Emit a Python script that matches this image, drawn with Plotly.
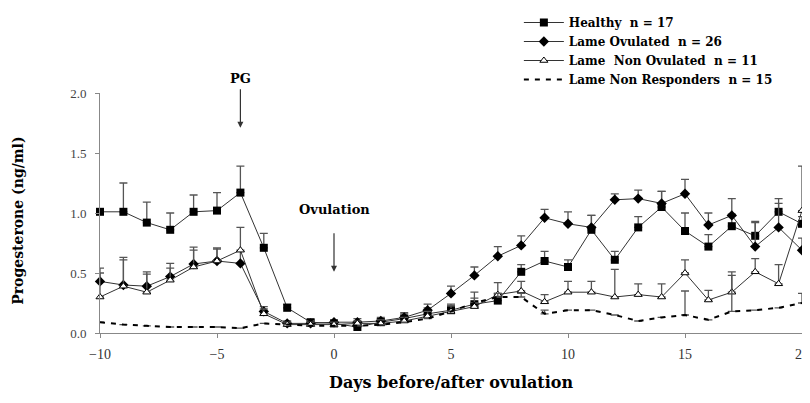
import plotly.graph_objects as go

days = list(range(-10, 21))

healthy = [1.01, 1.01, 0.92, 0.86, 1.01, 1.02, 1.17, 0.71, 0.21, 0.09,
           0.08, 0.05, 0.09, 0.12, 0.16, 0.19, 0.24, 0.27, 0.51, 0.60, 0.55,
           0.86, 0.61, 0.88, 1.05, 0.85, 0.72, 0.89, 0.81, 1.01, 0.91]
healthy_err = [0.02, 0.24, 0.17, 0.14, 0.14, 0.15, 0.22, 0.12, 0.03, 0.02,
               0.02, 0.02, 0.03, 0.04, 0.05, 0.05, 0.05, 0.06, 0.06, 0.08, 0.06,
               0.12, 0.07, 0.09, 0.13, 0.15, 0.10, 0.10, 0.12, 0.11, 0.06]

ovulated = [0.43, 0.40, 0.39, 0.47, 0.575, 0.60, 0.58, 0.18, 0.08, 0.08,
            0.09, 0.09, 0.10, 0.13, 0.19, 0.33, 0.48, 0.64, 0.73, 0.96, 0.91,
            0.88, 1.11, 1.12, 1.08, 1.16, 0.90, 0.98, 0.72, 0.88, 0.69]
ovulated_err = [0.11, 0.23, 0.12, 0.11, 0.14, 0.11, 0.10, 0.04, 0.02, 0.02,
                0.02, 0.03, 0.03, 0.04, 0.05, 0.06, 0.07, 0.08, 0.08, 0.07, 0.10,
                0.10, 0.05, 0.07, 0.10, 0.12, 0.10, 0.14, 0.20, 0.20, 0.10]

non_ovulated = [0.30, 0.39, 0.34, 0.44, 0.55, 0.60, 0.69, 0.16, 0.07, 0.07,
                0.07, 0.08, 0.08, 0.10, 0.14, 0.18, 0.22, 0.32, 0.35, 0.26, 0.34,
                0.34, 0.30, 0.32, 0.30, 0.50, 0.275, 0.34, 0.51, 0.41, 1.02]
non_ovulated_err = [0.20, 0.22, 0.15, 0.10, 0.14, 0.10, 0.19, 0.04, 0.02, 0.02,
                    0.02, 0.02, 0.03, 0.03, 0.04, 0.05, 0.12, 0.10, 0.08, 0.06, 0.09,
                    0.09, 0.23, 0.09, 0.11, 0.11, 0.08, 0.17, 0.11, 0.16, 0.37]

non_responders = [0.09, 0.07, 0.06, 0.05, 0.05, 0.05, 0.04, 0.08, 0.07, 0.06,
                  0.06, 0.06, 0.07, 0.09, 0.12, 0.18, 0.25, 0.30, 0.30, 0.16, 0.19,
                  0.19, 0.15, 0.10, 0.13, 0.15, 0.11, 0.18, 0.19, 0.21, 0.25]
non_responders_err = [0.0, 0.0, 0.0, 0.0, 0.0, 0.0, 0.0, 0.0, 0.0, 0.0,
                      0.0, 0.0, 0.0, 0.0, 0.0, 0.0, 0.0, 0.03, 0.03, 0.03, 0.0,
                      0.0, 0.0, 0.0, 0.0, 0.20, 0.0, 0.30, 0.0, 0.0, 0.08]

names = ["Healthy\u00a0 n = 17", "Lame Ovulated\u00a0 n = 26",
         "Lame\u00a0 Non Ovulated\u00a0 n = 11", "Lame Non Responders\u00a0 n = 15"]

x_ticks = [-10, -5, 0, 5, 10, 15, 20]
y_ticks = [0.0, 0.5, 1.0, 1.5, 2.0]
y_tick_text = ["0.0", "0.5", "1.0", "1.5", "2.0"]

serif = "DejaVu Serif"
times = "Liberation Serif"
zeros = [0] * len(days)

def err(vals):
    return dict(type="data", symmetric=False, array=vals, arrayminus=zeros,
                color="#555", thickness=1.3, width=4)

fig = go.Figure()
fig.add_trace(go.Scatter(
    x=days, y=healthy, name=names[0], mode="lines+markers",
    line=dict(color="#333", width=1),
    marker=dict(symbol="square", size=8, color="black"),
    error_y=err(healthy_err), cliponaxis=False))
fig.add_trace(go.Scatter(
    x=days, y=ovulated, name=names[1], mode="lines+markers",
    line=dict(color="#333", width=1),
    marker=dict(symbol="diamond", size=8, color="black"),
    error_y=err(ovulated_err), cliponaxis=False))
fig.add_trace(go.Scatter(
    x=days, y=non_ovulated, name=names[2], mode="lines+markers",
    line=dict(color="#333", width=1),
    marker=dict(symbol="triangle-up", size=7, color="white",
                line=dict(color="black", width=1)),
    error_y=err(non_ovulated_err), cliponaxis=False))
fig.add_trace(go.Scatter(
    x=days, y=non_responders, name=names[3], mode="lines",
    line=dict(color="black", width=2, dash="5px,6px"),
    error_y=err(non_responders_err), cliponaxis=False))

fig.add_annotation(x=-4, xref="x", y=1.1, yref="paper", text="<b>PG</b>",
                   showarrow=False, font=dict(family=serif, size=13, color="black"))
fig.add_annotation(x=-4, xref="x", y=0.855, yref="paper", ax=0, ay=-40,
                   text="", showarrow=True,
                   arrowhead=2, arrowsize=1, arrowwidth=1.2, arrowcolor="#333",
                   standoff=0, startstandoff=0)
fig.add_annotation(x=0, y=1.03, text="<b>Ovulation</b>", showarrow=False,
                   font=dict(family=serif, size=13, color="black"))
fig.add_annotation(x=0, y=0.51, ax=0, ay=-40, text="", showarrow=True,
                   arrowhead=2, arrowsize=1, arrowwidth=1.2, arrowcolor="#333",
                   standoff=0, startstandoff=0)
fig.add_annotation(x=0.5, xref="paper", y=-0.205, yref="paper", yanchor="middle",
                   text="<b>Days before/after ovulation</b>", showarrow=False,
                   font=dict(family=serif, size=16, color="black"))
fig.add_annotation(x=-0.117, xref="paper", y=0.467, yref="paper",
                   xanchor="center", yanchor="middle", textangle=-90,
                   text="<b>Progesterone (ng/ml)</b>", showarrow=False,
                   font=dict(family=serif, size=14, color="black"))

fig.update_layout(
    width=802, height=395,
    margin=dict(l=92, r=8, t=85, b=70, autoexpand=False),
    paper_bgcolor="white", plot_bgcolor="white",
    font=dict(family=times, size=12, color="black"),
    showlegend=True,
    legend=dict(xref="container", yref="container", x=0.637, y=1.0,
                xanchor="left", yanchor="top",
                font=dict(family=serif, size=12, color="black", weight="bold"),
                bgcolor="rgba(0,0,0,0)", tracegroupgap=0, itemwidth=40),
    xaxis=dict(range=[-10, 20], tickvals=x_ticks, ticks="outside", ticklen=4,
               tickcolor="#888", showline=True, linecolor="#888", linewidth=1,
               showgrid=False, zeroline=False, automargin=False,
               ticklabelstandoff=4,
               tickfont=dict(family=times, size=14, color="#333")),
    yaxis=dict(range=[0, 2.0], tickvals=y_ticks, ticktext=y_tick_text,
               ticks="outside", ticklen=4, tickcolor="#888",
               showline=True, linecolor="#888", linewidth=1,
               showgrid=False, zeroline=False, automargin=False,
               ticklabelstandoff=6,
               tickfont=dict(family=times, size=13, color="#444")),
)

fig.write_html("out.html")
